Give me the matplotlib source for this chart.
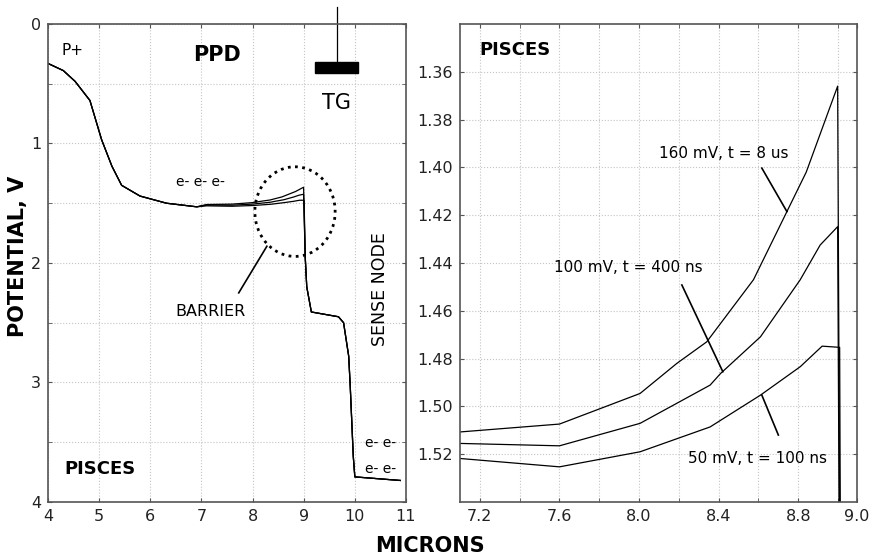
import numpy as np
import matplotlib
matplotlib.use('Agg')
import matplotlib.pyplot as plt
from matplotlib.patches import Ellipse, Rectangle

# common part of the potential profile (photodiode side)
head_x = [4.0, 4.3, 4.53, 4.82, 5.05, 5.25, 5.44, 5.80, 6.32, 6.91]
head_y = [0.33, 0.39, 0.48, 0.64, 0.97, 1.19, 1.35, 1.44, 1.50, 1.53]

# barrier region, three signal levels
x_160 = [7.10, 7.60, 8.005, 8.19, 8.34, 8.575, 8.74, 8.84, 8.998]
y_160 = [1.5107, 1.5074, 1.4946, 1.482, 1.473, 1.447, 1.419, 1.402, 1.366]
x_100 = [7.10, 7.60, 8.005, 8.357, 8.41, 8.61, 8.81, 8.91, 8.998]
y_100 = [1.5155, 1.5165, 1.5071, 1.4911, 1.4862, 1.4709, 1.447, 1.4325, 1.4248]
x_50 = [7.10, 7.60, 8.005, 8.357, 8.61, 8.81, 8.92, 9.008]
y_50 = [1.5218, 1.5253, 1.519, 1.5086, 1.4953, 1.4834, 1.4748, 1.4753]

# drop into the sense node
tail_x = [9.03, 9.06, 9.15, 9.68, 9.78, 9.88, 9.91, 9.97, 10.0, 10.89]
tail_y = [1.95, 2.2, 2.41, 2.45, 2.50, 2.78, 3.03, 3.62, 3.79, 3.82]

series = [(x_160, y_160), (x_100, y_100), (x_50, y_50)]
labels = ['160 mV, t = 8 us', '100 mV, t = 400 ns', '50 mV, t = 100 ns']

plt.rcParams['font.family'] = 'DejaVu Sans'

fig = plt.figure(figsize=(8.74, 5.58), dpi=100)
ax1 = fig.add_axes([0.0549, 0.1004, 0.4096, 0.8566])
ax2 = fig.add_axes([0.5263, 0.1004, 0.4542, 0.8566])

spine_col = '#555555'
grid_kw = dict(color='#c4c4c4', linestyle=':', linewidth=0.8)

for ax in (ax1, ax2):
    for s in ax.spines.values():
        s.set_color(spine_col)
        s.set_linewidth(1.2)
    ax.tick_params(which='both', direction='in', top=True, right=True,
                   length=3, color=spine_col, labelsize=11.5, pad=5,
                   labelcolor='#222222')
    ax.grid(True, which='both', **grid_kw)
    ax.set_axisbelow(True)

# ---- left panel: full profile
for xs, ys in series:
    ax1.plot(head_x + xs + tail_x, head_y + ys + tail_y, color='black', lw=0.9)
ax1.set_xlim(4, 11)
ax1.set_ylim(4, 0)
ax1.set_xticks(np.arange(4, 12, 1))
ax1.set_yticks(np.arange(0, 5, 1))
ax1.set_yticks(np.arange(0.5, 4, 1), minor=True)
ax1.tick_params(which='minor', length=3)

ax1.text(4.47, 0.22, 'P+', fontsize=11, ha='center', va='center')
ax1.text(7.30, 0.26, 'PPD', fontsize=15, fontweight='bold', ha='center', va='center')
ax1.add_patch(Rectangle((9.22, 0.32), 0.85, 0.09, color='black'))
ax1.plot([9.65, 9.65], [-0.14, 0.32], color='black', lw=0.9, clip_on=False)
ax1.text(9.65, 0.66, 'TG', fontsize=15, ha='center', va='center')
ax1.text(6.99, 1.32, 'e- e- e-', fontsize=10, ha='center', va='center')
ax1.add_patch(Ellipse((8.83, 1.57), 1.57, 0.75, fill=False, linestyle=(0, (1, 1.6)),
                      linewidth=2, edgecolor='black'))
ax1.plot([7.73, 8.28], [2.25, 1.86], color='black', lw=1.2)
ax1.text(7.17, 2.41, 'BARRIER', fontsize=11.5, ha='center', va='center')
ax1.text(10.49, 2.22, 'SENSE NODE', fontsize=12.5, rotation=90, ha='center', va='center')
ax1.text(10.51, 3.51, 'e- e-', fontsize=10, ha='center', va='center')
ax1.text(10.51, 3.72, 'e- e-', fontsize=10, ha='center', va='center')
ax1.text(5.02, 3.72, 'PISCES', fontsize=13, fontweight='bold', ha='center', va='center')

# ---- right panel: zoom on the barrier
for xs, ys in series:
    ax2.plot(xs + tail_x, ys + tail_y, color='black', lw=0.9)
ax2.set_xlim(7.1, 9.095)
ax2.set_ylim(1.54, 1.34)
ax2.set_xticks([7.2, 7.6, 8.0, 8.4, 8.8, 9.095])
ax2.set_xticklabels(['7.2', '7.6', '8.0', '8.4', '8.8', '9.0'])
ax2.set_xticks([7.4, 7.8, 8.2, 8.6, 9.0], minor=True)
ax2.set_yticks(np.arange(1.36, 1.53, 0.02))
ax2.set_yticklabels(['%.2f' % v for v in np.arange(1.36, 1.53, 0.02)])

ax2.text(7.376, 1.351, 'PISCES', fontsize=13, fontweight='bold', ha='center', va='center')
ax2.text(8.428, 1.394, labels[0], fontsize=11, ha='center', va='center')
ax2.plot([8.617, 8.743], [1.4003, 1.4185], color='black', lw=1.2)
ax2.text(7.945, 1.4417, labels[1], fontsize=11, ha='center', va='center')
ax2.plot([8.215, 8.421], [1.4492, 1.4855], color='black', lw=1.2)
ax2.text(8.594, 1.5217, labels[2], fontsize=11, ha='center', va='center')
ax2.plot([8.617, 8.70], [1.4953, 1.512], color='black', lw=1.2)

fig.text(0.021, 0.541, 'POTENTIAL, V', fontsize=15, fontweight='bold',
         rotation=90, ha='center', va='center')
fig.text(0.492, 0.022, 'MICRONS', fontsize=15, fontweight='bold',
         ha='center', va='center')

fig.savefig('out.png', dpi=100, facecolor='white')
